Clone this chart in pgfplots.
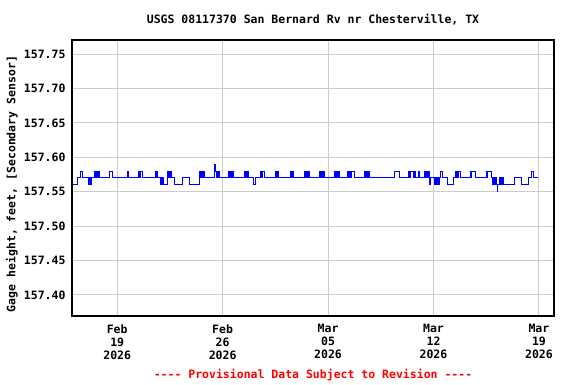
\documentclass[border=0pt]{standalone}
\usepackage{fontspec}
\setmainfont{DejaVu Sans Mono}
\usepackage{pgfplots}
\pgfplotsset{compat=1.18}
\definecolor{gridgray}{HTML}{CCCCCC}
\definecolor{usgsblue}{RGB}{0,0,255}
\pgfplotstableread{
x y
-2.98 157.56
-2.654 157.57
-2.409 157.58
-2.322 157.57
-1.878 157.56
-1.812 157.57
-1.765 157.56
-1.699 157.57
-1.526 157.58
-1.460 157.57
-1.414 157.58
-1.347 157.57
-1.307 157.58
-1.254 157.57
-1.228 157.58
-1.194 157.57
-0.531 157.58
-0.332 157.57
0.664 157.58
0.756 157.57
1.440 157.58
1.493 157.57
1.526 157.58
1.685 157.57
2.522 157.58
2.581 157.57
2.621 157.58
2.681 157.57
2.900 157.56
2.953 157.57
2.993 157.56
3.033 157.57
3.066 157.56
3.344 157.58
3.384 157.57
3.424 157.58
3.470 157.57
3.510 157.58
3.557 157.57
3.577 157.58
3.610 157.57
3.782 157.56
4.313 157.57
4.804 157.56
5.441 157.58
5.501 157.57
5.541 157.58
5.594 157.57
5.634 157.58
5.687 157.57
5.720 157.58
5.773 157.57
6.463 157.58
6.483 157.59
6.530 157.58
6.589 157.57
6.629 157.58
6.682 157.57
6.722 157.58
6.795 157.57
7.412 157.58
7.478 157.57
7.518 157.58
7.578 157.57
7.611 157.58
7.664 157.57
7.691 157.58
7.724 157.57
8.454 157.58
8.514 157.57
8.554 157.58
8.613 157.57
8.646 157.58
8.719 157.57
9.071 157.56
9.157 157.57
9.489 157.58
9.602 157.57
9.668 157.58
9.781 157.57
10.531 157.58
10.597 157.57
10.637 157.58
10.710 157.57
11.526 157.58
11.593 157.57
11.633 157.58
11.705 157.57
12.409 157.58
12.468 157.57
12.508 157.58
12.568 157.57
12.601 157.58
12.654 157.57
12.687 157.58
12.741 157.57
13.404 157.58
13.471 157.57
13.510 157.58
13.570 157.57
13.610 157.58
13.670 157.57
13.703 157.58
13.783 157.57
14.446 157.58
14.512 157.57
14.552 157.58
14.612 157.57
14.645 157.58
14.698 157.57
14.731 157.58
14.778 157.57
15.302 157.58
15.349 157.57
15.402 157.58
15.501 157.57
15.587 157.58
15.766 157.57
16.390 157.58
16.450 157.57
16.490 157.58
16.556 157.57
16.596 157.58
16.656 157.57
16.696 157.58
16.769 157.57
18.428 157.58
18.759 157.57
19.356 157.58
19.423 157.57
19.463 157.58
19.701 157.57
19.741 157.58
19.801 157.57
19.973 157.58
20.086 157.57
20.418 157.58
20.478 157.57
20.518 157.58
20.578 157.57
20.617 157.58
20.670 157.57
20.697 157.58
20.730 157.56
20.796 157.57
21.082 157.56
21.135 157.57
21.175 157.56
21.234 157.57
21.274 157.56
21.334 157.57
21.367 157.56
21.413 157.57
21.480 157.58
21.566 157.57
21.898 157.56
22.342 157.57
22.475 157.58
22.541 157.57
22.581 157.58
22.647 157.57
22.687 157.58
22.787 157.57
23.424 157.58
23.490 157.57
23.537 157.58
23.756 157.57
24.513 157.58
24.572 157.57
24.612 157.58
24.844 157.57
24.950 157.56
25.003 157.57
25.043 157.56
25.096 157.57
25.136 157.56
25.182 157.57
25.209 157.56
25.242 157.55
25.282 157.56
25.395 157.57
25.441 157.56
25.481 157.57
25.534 157.56
25.574 157.57
25.627 157.56
25.660 157.57
25.680 157.56
26.390 157.57
26.835 157.56
27.339 157.57
27.498 157.58
27.631 157.57
27.950 157.57
}\gagedata
\begin{document}
\begin{tikzpicture}[font=\fontsize{11.5}{13}\selectfont\bfseries]
\useasboundingbox (0,0) rectangle (576pt,384pt);
\begin{axis}[
  at={(72pt,68pt)}, anchor=south west,
  scale only axis, width=482pt, height=276pt,
  xmin=-3, xmax=29, ymin=157.3693, ymax=157.7705,
  xtick={0,7,14,21,28},
  xticklabels={{Feb\\19\\2026},{Feb\\26\\2026},{Mar\\05\\2026},{Mar\\12\\2026},{Mar\\19\\2026}},
  xticklabel style={align=center, font=\fontsize{11.5}{13}\selectfont\bfseries, yshift=-5pt},
  ytick={157.40,157.45,157.50,157.55,157.60,157.65,157.70,157.75},
  yticklabels={157.40,157.45,157.50,157.55,157.60,157.65,157.70,157.75},
  yticklabel style={font=\fontsize{11.5}{13}\selectfont\bfseries, xshift=-3pt},
  /pgf/number format/assume math mode=true,
  grid=major,
  major grid style={gridgray, line width=1pt},
  axis line style={black, line width=1.5pt},
  major tick length=0pt,
]
\addplot[usgsblue, line width=1pt, const plot, mark=none] table[x=x, y=y] {\gagedata};
\end{axis}
\node at (313pt,364pt) {USGS 08117370 San Bernard Rv nr Chesterville, TX};
\node[rotate=90] at (12pt,200pt) {Gage height, feet, [Secondary Sensor]};
\node[text=red] at (313pt,9pt) {-{}-{}-{}- Provisional Data Subject to Revision -{}-{}-{}-};
\end{tikzpicture}
\end{document}
